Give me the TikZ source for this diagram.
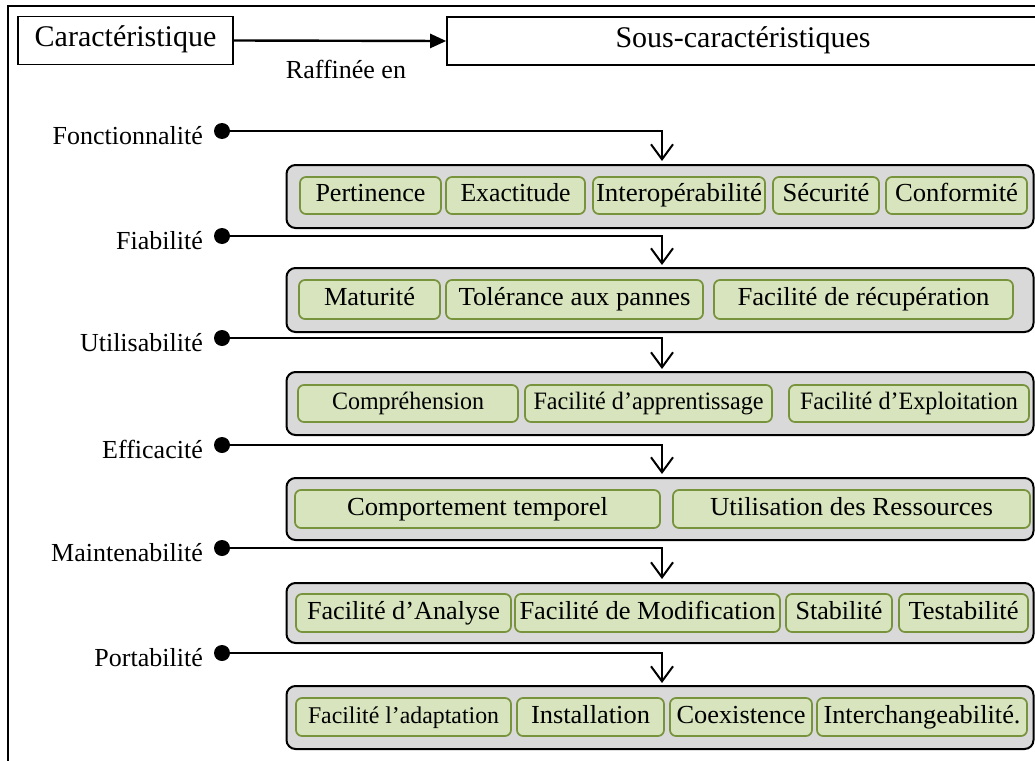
\documentclass[tikz,border=0pt]{standalone}
\usepackage{fontspec}
\setmainfont{Liberation Serif}
\usepackage{graphicx}
\usetikzlibrary{arrows.meta}
\definecolor{grayfill}{HTML}{D9D9D9}
\definecolor{greenfill}{HTML}{D7E4BD}
\definecolor{greenline}{HTML}{77933C}
\newcommand\fw[2]{\resizebox{#1pt}{\height}{#2}}
\begin{document}
\begin{tikzpicture}[x=1pt,y=-1pt,
  lab/.style={font=\fontsize{26}{30}\selectfont, inner sep=0pt, anchor=base east},
  dotn/.style={circle, fill=black, inner sep=0pt, minimum size=16pt},
  graybox/.style={draw=black, line width=2pt, fill=grayfill, rounded corners=9pt, inner sep=0pt, minimum width=747pt},
  gbox/.style={draw=greenline, line width=1.7pt, fill=greenfill, rounded corners=6pt, inner sep=0pt, font=\fontsize{26}{30}\selectfont, text height=18pt, text depth=6pt, minimum height=37pt},
  tbox/.style={draw=black, line width=1.6pt, fill=white, inner sep=0pt, minimum height=48pt, font=\fontsize{30}{34}\selectfont, text height=20pt, text depth=7pt},
  conn/.style={line width=2.4pt, -{Straight Barb[length=15pt,width=22pt,line width=2pt]}}
]
\useasboundingbox (0,0) rectangle (1035,760);
\clip (0,0) rectangle (1035,760);
\fill[white] (0,0) rectangle (1035,760);
% outer frame
\draw[line width=2.2pt] (8,800) -- (8,6) -- (1100,6);

% title row
\node[tbox, minimum width=215pt] (car) at (125.5,40.5) {Caractéristique};
\node[tbox, minimum width=600pt] (sous) at (747,41) {\hspace{-8pt}Sous-caractéristiques};
\draw[line width=2.4pt, -{Triangle[length=16pt,width=14pt]}] (car.east) -- (sous.west);
\node[font=\fontsize{26}{30}\selectfont, inner sep=0pt, anchor=base] (raf) at (346,78) {Raffinée en};

% gray containers
\node[graybox, minimum height=63pt] (g1) at (660,196.5) {};
\node[graybox, minimum height=64pt] (g2) at (660,300) {};
\node[graybox, minimum height=63pt] (g3) at (660,403.5) {};
\node[graybox, minimum height=62pt] (g4) at (660,509) {};
\node[graybox, minimum height=60pt] (g5) at (660,613) {};
\node[graybox, minimum height=63pt] (g6) at (660,717.5) {};

% labels and dots
\node[lab] (l1) at (203,144) {Fonctionnalité};
\node[lab] (l2) at (203,249) {Fiabilité};
\node[lab] (l3) at (203,351) {Utilisabilité};
\node[lab] (l4) at (203,458) {Efficacité};
\node[lab] (l5) at (203,561) {Maintenabilité};
\node[lab] (l6) at (203,666) {Portabilité};
\node[dotn] (d1) at (222,131) {};
\node[dotn] (d2) at (222,236) {};
\node[dotn] (d3) at (222,338) {};
\node[dotn] (d4) at (222,445) {};
\node[dotn] (d5) at (222,548) {};
\node[dotn] (d6) at (222,653) {};

% arrow tips
\coordinate (t1) at (662,161);
\coordinate (t2) at (662,265);
\coordinate (t3) at (662,369);
\coordinate (t4) at (662,474);
\coordinate (t5) at (662,579);
\coordinate (t6) at (662,683);
\draw[conn] (d1.center) -| (t1);
\draw[conn] (d2.center) -| (t2);
\draw[conn] (d3.center) -| (t3);
\draw[conn] (d4.center) -| (t4);
\draw[conn] (d5.center) -| (t5);
\draw[conn] (d6.center) -| (t6);

% row 1
\node[gbox, minimum width=141pt] (a1) at (370.5,195.5) {\fw{110}{Pertinence}};
\node[gbox, minimum width=139pt] (a2) at (515.5,195.5) {\fw{110}{Exactitude}};
\node[gbox, minimum width=172pt] (a3) at (679,195.5) {\fw{166}{Interopérabilité}};
\node[gbox, minimum width=106pt] (a4) at (826,195.5) {\fw{87}{Sécurité}};
\node[gbox, minimum width=141pt] (a5) at (956.5,195.5) {\fw{123}{Conformité}};
% row 2
\node[gbox, minimum width=141pt, minimum height=39pt] (b1) at (369.5,299.5) {\fw{91}{Maturité}};
\node[gbox, minimum width=257pt, minimum height=39pt] (b2) at (574.5,299.5) {\fw{232}{Tolérance aux pannes}};
\node[gbox, minimum width=299pt, minimum height=39pt] (b3) at (863.5,299.5) {\fw{252}{Facilité de récupération}};
% row 3
\node[gbox, minimum width=220pt, font=\fontsize{25}{29}\selectfont] (c1) at (408,403.5) {\fw{152}{Compréhension}};
\node[gbox, minimum width=247pt, font=\fontsize{25}{29}\selectfont] (c2) at (648.5,403.5) {\fw{230}{Facilité d’apprentissage}};
\node[gbox, minimum width=240pt, font=\fontsize{25}{29}\selectfont] (c3) at (909,403.5) {\fw{218}{Facilité d’Exploitation}};
% row 4
\node[gbox, minimum width=365pt, minimum height=38pt] (e1) at (477.5,509) {\fw{261}{Comportement temporel}};
\node[gbox, minimum width=357pt, minimum height=38pt] (e2) at (851.5,509) {\fw{283}{Utilisation des Ressources}};
% row 5
\node[gbox, minimum width=215pt, minimum height=38pt] (m1) at (403.5,613) {\fw{193}{Facilité d’Analyse}};
\node[gbox, minimum width=265pt, minimum height=38pt] (m2) at (647.5,613) {\fw{256}{Facilité de Modification}};
\node[gbox, minimum width=106pt, minimum height=38pt] (m3) at (839,613) {\fw{87}{Stabilité}};
\node[gbox, minimum width=129pt, minimum height=38pt] (m4) at (963.5,613) {\fw{110}{Testabilité}};
% row 6
\node[gbox, minimum width=215pt, minimum height=38pt, font=\fontsize{24}{28}\selectfont] (p1) at (403.5,717) {\fw{191}{Facilité l’adaptation}};
\node[gbox, minimum width=147pt, minimum height=38pt] (p2) at (590.5,717) {\fw{119}{Installation}};
\node[gbox, minimum width=142pt, minimum height=38pt] (p3) at (741,717) {\fw{129}{Coexistence}};
\node[gbox, minimum width=210pt, minimum height=38pt] (p4) at (922,717) {\fw{197}{Interchangeabilité.}};
\end{tikzpicture}
\end{document}
